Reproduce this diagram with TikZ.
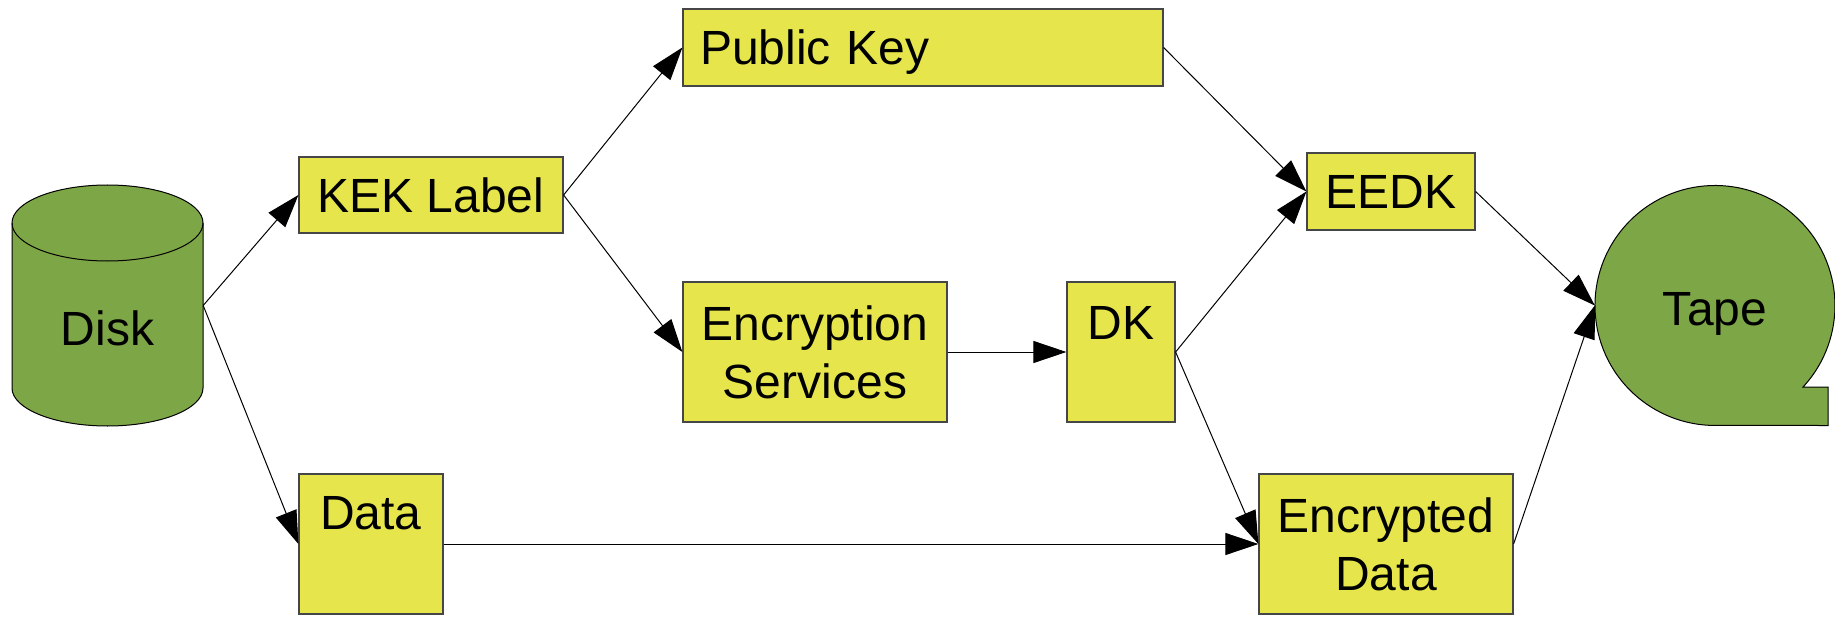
\documentclass[tikz,border=0pt]{standalone}
\usepackage{fontspec}
\setmainfont{Liberation Sans}
\usetikzlibrary{arrows.meta}

\definecolor{boxyellow}{RGB}{230,230,76}
\definecolor{mediagreen}{RGB}{125,166,71}
\definecolor{boxline}{RGB}{70,70,70}

\begin{document}
\begin{tikzpicture}[x=1pt,y=-1pt,font=\fontsize{48}{58}\selectfont]

        \useasboundingbox (0,0) rectangle (1835,620);

        % disk and tape outlines
        \filldraw[fill=mediagreen,draw=black,line width=1pt]
          (12,223) -- (12,388) arc[start angle=180,end angle=0,x radius=95.5,y radius=38]
          -- (203,223) arc[start angle=0,end angle=-180,x radius=95.5,y radius=38] -- cycle;
        \draw[line width=1pt] (12,223) arc[start angle=180,end angle=0,x radius=95.5,y radius=38];

        \filldraw[fill=mediagreen,draw=black,line width=1pt]
          (1803,387) arc[start angle=42.8,end angle=-270,radius=120]
          -- (1828,425.5) -- (1828,387) -- cycle;

        \begin{scope}[every node/.style={rectangle,draw=boxline,fill=boxyellow,line width=1.2pt,inner sep=0pt,align=center}]
          \node[minimum width=264,minimum height=76] (kek)     at (431,195)    {KEK Label};
          \node[minimum width=480,minimum height=77,text width=446pt,inner xsep=17pt,align=left,text depth=0pt]
                                                     (pubkey)  at (923,47.5)   {Public Key};
          \node[minimum width=264,minimum height=140] (encsvc) at (815,352)    {Encryption\\Services};
          \node[minimum width=108,minimum height=140,
                label={[anchor=north,yshift=-24pt,inner sep=0pt]north:DK}] (dk) at (1121,352) {};
          \node[minimum width=168,minimum height=77] (eedk)    at (1391,191.5) {EEDK};
          \node[minimum width=144,minimum height=140,
                label={[anchor=north,yshift=-22pt,inner sep=0pt]north:Data}] (data) at (371,544) {};
          \node[minimum width=254,minimum height=140] (encdata) at (1386,544)   {Encrypted\\Data};
        \end{scope}

        \node[rectangle,minimum width=191,minimum height=241,inner sep=0pt,
              label={[yshift=-22.5pt,inner sep=0pt]center:Disk}] (disk) at (107.5,305.5) {};
        \node[circle,minimum size=240,inner sep=0pt,text height=40pt,text depth=0pt] (tape) at (1715,305.5) {Tape};

        \begin{scope}[every edge/.style={draw,line width=1pt,-{Triangle[length=33pt,width=22pt]}}]
          \path (disk.east)    edge (kek.west);
          \path (disk.east)    edge (data.west);
          \path (kek.east)     edge (pubkey.west);
          \path (kek.east)     edge (encsvc.west);
          \path (encsvc.east)  edge (dk.west);
          \path (pubkey.east)  edge (eedk.west);
          \path (dk.east)      edge (eedk.west);
          \path (dk.east)      edge (encdata.west);
          \path (data.east)    edge (encdata.west);
          \path (eedk.east)    edge (tape.west);
          \path (encdata.east) edge (tape.west);
        \end{scope}

\end{tikzpicture}
\end{document}
